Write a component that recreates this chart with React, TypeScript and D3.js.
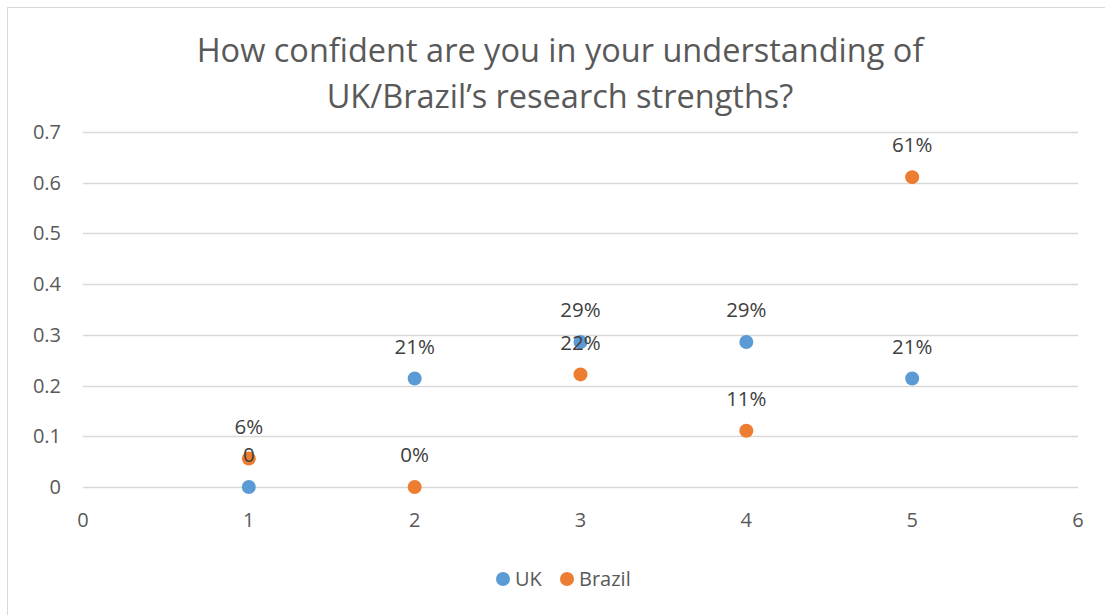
import { useRef, useEffect } from "react";
import * as d3 from "d3";

const xValues = [1, 2, 3, 4, 5];
const ukValues = [0, 0.214, 0.286, 0.286, 0.214];
const brazilValues = [0.056, 0, 0.222, 0.111, 0.611];
const ukLabels = ["0", "21%", "29%", "29%", "21%"];
const brazilLabels = ["6%", "0%", "22%", "11%", "61%"];
const xTicks = [0, 1, 2, 3, 4, 5, 6];
const yTicks = [0, 0.1, 0.2, 0.3, 0.4, 0.5, 0.6, 0.7];
const titleLines = ["How confident are you in your understanding of", "UK/Brazil\u2019s research strengths?"];

const series = [
    { name: "UK", color: "#5B9BD5", values: ukValues, labels: ukLabels },
    { name: "Brazil", color: "#ED7D31", values: brazilValues, labels: brazilLabels },
];

const App = () => {
    const svgRef = useRef<SVGSVGElement>(null);

    useEffect(() => {
        const width = 1105;
        const height = 615;
        const font = "Open Sans, Calibri, sans-serif";
        const textColor = "#595959";

        const svg = d3.select(svgRef.current);
        svg.selectAll("*").remove();
        svg.attr("width", width).attr("height", height);

        // chart border
        svg.append("rect")
            .attr("x", 7.5)
            .attr("y", 7.5)
            .attr("width", width)
            .attr("height", height)
            .attr("fill", "white")
            .attr("stroke", "#D9D9D9");

        const x = d3.scaleLinear().domain([0, 6]).range([83, 1078]);
        const y = d3.scaleLinear().domain([0, 0.7]).range([487, 132]);

        // title
        svg.append("g")
            .selectAll("text")
            .data(titleLines)
            .join("text")
            .attr("x", 560)
            .attr("y", (d, i) => 62 + i * 46)
            .attr("text-anchor", "middle")
            .style("font-family", font)
            .style("font-size", "32.5px")
            .style("fill", textColor)
            .text((d) => d);

        // gridlines
        svg.append("g")
            .selectAll("line")
            .data(yTicks)
            .join("line")
            .attr("x1", x(0))
            .attr("x2", x(6))
            .attr("y1", (d) => Math.round(y(d)) + 0.5)
            .attr("y2", (d) => Math.round(y(d)) + 0.5)
            .attr("stroke", "#D9D9D9")
            .attr("stroke-width", 1.3);

        // y tick labels
        svg.append("g")
            .selectAll("text")
            .data(yTicks)
            .join("text")
            .attr("x", 61)
            .attr("y", (d) => y(d))
            .attr("dy", "0.35em")
            .attr("text-anchor", "end")
            .style("font-family", font)
            .style("font-size", "20px")
            .style("fill", textColor)
            .text((d) => (d === 0 ? "0" : d3.format(".1f")(d)));

        // x tick labels
        svg.append("g")
            .selectAll("text")
            .data(xTicks)
            .join("text")
            .attr("x", (d) => x(d))
            .attr("y", 520)
            .attr("dy", "0.35em")
            .attr("text-anchor", "middle")
            .style("font-family", font)
            .style("font-size", "20px")
            .style("fill", textColor)
            .text((d) => d);

        // points
        series.forEach((s) => {
            svg.append("g")
                .selectAll("circle")
                .data(s.values)
                .join("circle")
                .attr("cx", (d, i) => x(xValues[i]))
                .attr("cy", (d) => y(d))
                .attr("r", 7)
                .attr("fill", s.color);
        });

        // data labels
        series.forEach((s) => {
            svg.append("g")
                .selectAll("text")
                .data(s.values)
                .join("text")
                .attr("x", (d, i) => x(xValues[i]))
                .attr("y", (d) => y(d) - 32)
                .attr("dy", "0.35em")
                .attr("text-anchor", "middle")
                .style("font-family", font)
                .style("font-size", "20.5px")
                .style("fill", "#404040")
                .text((d, i) => s.labels[i]);
        });

        // legend
        const legend = svg.append("g").attr("transform", "translate(503, 579)");
        const items = legend
            .selectAll("g")
            .data(series)
            .join("g")
            .attr("transform", (d, i) => `translate(${i * 64}, 0)`);
        items.append("circle").attr("r", 7).attr("fill", (d) => d.color);
        items.append("text")
            .attr("x", 12)
            .attr("dy", "0.35em")
            .style("font-family", font)
            .style("font-size", "20px")
            .style("fill", textColor)
            .text((d) => d.name);
    }, []);

    return <svg ref={svgRef} style={{ position: "absolute", left: 0, top: 0 }}></svg>;
};

export default App;
